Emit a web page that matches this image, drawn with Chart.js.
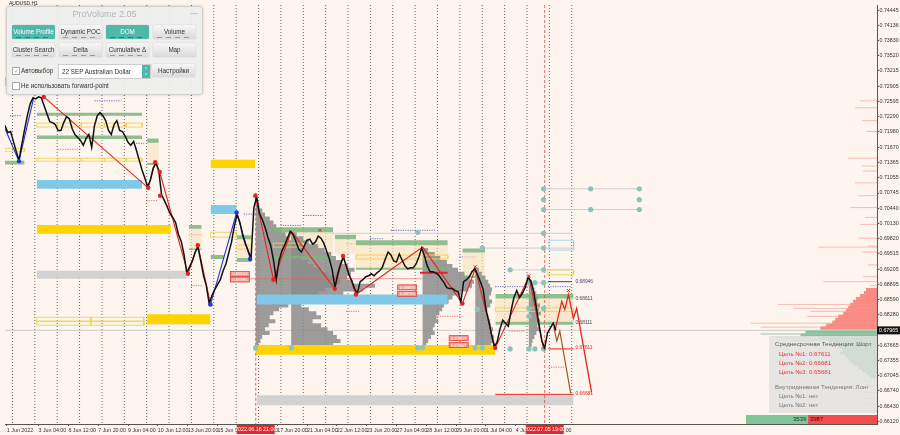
<!DOCTYPE html>
<html>
<head>
<meta charset="utf-8">
<title>AUDUSD,H1 ProVolume</title>
<script src="https://cdn.jsdelivr.net/npm/chart.js@4.4.1/dist/chart.umd.min.js"></script>
<style>
  html, body { margin: 0; padding: 0; background: #fdf5ee; }
  #wrap { position: relative; width: 900px; height: 435px; overflow: hidden; font-family: "Liberation Sans", Arial, sans-serif; }
  #graphCanvas { position: absolute; left: 0; top: 0; }
  #sym { position: absolute; left: 9px; top: 0; font-size: 5px; color: #222; }
  #pv { position: absolute; left: 6px; top: 6px; width: 195px; height: 87px; background: rgba(238,238,238,0.94);
        border: 1px solid #cfcfcf; border-radius: 3px; box-shadow: 0 0 3px rgba(0,0,0,0.18); }
  #pv .ttl { position: absolute; left: 0; right: 0; top: 2px; text-align: center; font-size: 9px; color: #b4b4b4; }
  #pv .min { position: absolute; right: 4px; top: 1px; font-size: 8px; color: #aaa; }
  .btn { position: absolute; width: 43px; height: 14px; border-radius: 2px; background: linear-gradient(#f7f7f7, #dadada);
         color: #333; font-size: 6.3px; text-align: center; line-height: 14px; box-shadow: 0 0 1px rgba(0,0,0,0.4); }
  .btn.on { background: #4fb8aa; color: #fff; }
  .btn i { position: absolute; left: 4px; right: 4px; bottom: 1.5px; height: 1px;
           background: repeating-linear-gradient(90deg, #999 0 5px, transparent 5px 9px); }
  .btn.on i { background: repeating-linear-gradient(90deg, #2f7f75 0 5px, transparent 5px 9px); }
  .cb { position: absolute; width: 6px; height: 6px; border: 1px solid #aaa; background: #fff; font-size: 6px; line-height: 6px; color: #4fb8aa; text-align: center; }
  .lbl { position: absolute; font-size: 6.3px; color: #333; white-space: nowrap; }
  .sel { position: absolute; left: 51px; top: 57px; width: 88px; height: 13px; background: #fff; border: 1px solid #ccc;
         font-size: 6.3px; line-height: 13px; padding-left: 3px; color: #333; }
  .sel .spin { position: absolute; right: 0; top: 0; width: 8px; height: 13px; background: #4fb8aa; color: #fff; font-size: 4px; line-height: 6px; text-align: center; }
  #info { position: absolute; left: 769px; top: 336px; width: 108px; height: 77px; background: rgba(226,226,226,0.82); }
  #info div { position: absolute; font-size: 6.2px; line-height: 7px; white-space: nowrap; color: #666; }
  #info .h { left: 6px; color: #555; }
  #info .r { left: 10px; color: #e53935; }
  #info .g { left: 10px; color: #777; }
  #vol { position: absolute; left: 746px; top: 415px; width: 131px; height: 9px; font-size: 6px; line-height: 9px; }
  #vol .b { position: absolute; left: 0; top: 0; width: 62px; height: 9px; background: #7fc597; text-align: right; color: #1d3a24; }
  #vol .s { position: absolute; left: 62px; top: 0; width: 69px; height: 9px; background: #f24e4e; color: #5a0000; }
</style>
</head>
<body>
<div id="wrap">
  <canvas id="graphCanvas" width="900" height="435"></canvas>
  <div id="sym">AUDUSD,H1</div>
  <div id="pv">
    <div class="ttl">ProVolume 2.05</div><div class="min">—</div>
    <div class="btn on" style="left:5px;top:18px">Volume Profile<i></i></div>
    <div class="btn" style="left:52px;top:18px">Dynamic POC<i></i></div>
    <div class="btn on" style="left:99px;top:18px">DOM<i></i></div>
    <div class="btn" style="left:146px;top:18px">Volume<i></i></div>
    <div class="btn" style="left:5px;top:36px">Cluster Search<i></i></div>
    <div class="btn" style="left:52px;top:36px">Delta<i></i></div>
    <div class="btn" style="left:99px;top:36px">Cumulative Δ<i></i></div>
    <div class="btn" style="left:146px;top:36px">Map</div>
    <div class="cb" style="left:5px;top:60px">✓</div>
    <div class="lbl" style="left:14px;top:60px">Автовыбор</div>
    <div class="sel">22 SEP Australian Dollar<div class="spin">˄<br>˅</div></div>
    <div class="btn" style="left:145px;top:57px;height:13px;line-height:13px">Настройки</div>
    <div class="cb" style="left:5px;top:75px"></div>
    <div class="lbl" style="left:14px;top:75px">Не использовать forward-point</div>
  </div>
  <div id="info">
    <div class="h" style="top:4px">Среднесрочная Тенденция: Шорт</div>
    <div class="r" style="top:14px">Цель №1: 0.67611</div>
    <div class="r" style="top:23px">Цель №2: 0.66681</div>
    <div class="r" style="top:32px">Цель №3: 0.65681</div>
    <div class="h" style="top:47px;color:#777">Внутридневная Тенденция: Лонг</div>
    <div class="g" style="top:56px">Цель №1: нет</div>
    <div class="g" style="top:65px">Цель №2: нет</div>
  </div>
  <div id="vol"><div class="b">3539&nbsp;</div><div class="s">&nbsp;3987</div></div>
</div>
<script>
const ctx = document.getElementById('graphCanvas').getContext('2d');

// axis bounds (bar index of H1 bars, price)
const xMin = 16, xMax = 951.5;
const yMin = 0.6607, yMax = 0.7455;

// time axis
const xTickBars = [18, 52, 84, 116, 148, 180, 212, 244, 276, 308, 340, 372, 404, 436, 468, 500, 532, 564, 596];
const xTickLabels = ['1 Jun 2022', '3 Jun 04:00', '6 Jun 12:00', '7 Jun 20:00', '9 Jun 04:00', '10 Jun 12:00',
  '13 Jun 20:00', '15 Jun 04:00', '16 Jun 12:00', '17 Jun 20:00', '21 Jun 04:00', '22 Jun 12:00', '23 Jun 20:00',
  '27 Jun 04:00', '28 Jun 12:00', '29 Jun 20:00', '1 Jul 04:00', '4 Jul 12:00', '5 Jul 20:00'];
const daySeparatorBars = [24, 48, 72, 96, 120, 144, 168, 192, 216, 240, 264, 288, 312, 336, 360, 384, 408, 432,
  456, 480, 504, 528, 552, 576, 600, 624];
const timeMarkerBars = [285, 595];
const timeMarkerLabels = ['2022.06.16 21:00', '2022.07.05 19:00'];
const timeMarkerTops = [0.7075, 0.7455];

// price axis
const yTicks = [0.74445, 0.74136, 0.73830, 0.73520, 0.73215, 0.72905, 0.72595, 0.72290, 0.71980, 0.71670,
  0.71365, 0.71055, 0.70745, 0.70440, 0.70130, 0.69820, 0.69515, 0.69205, 0.68895, 0.68590, 0.68280,
  0.67665, 0.67355, 0.67045, 0.66740, 0.66430, 0.66120];
const currentPrice = 0.67965;

// close price, every 3rd H1 bar from bar 16
const priceStartBar = 16;
const priceStep = 3;
const closePrices = [
  0.7211, 0.7197, 0.7199, 0.7179, 0.7159, 0.7141, 0.7173, 0.7203, 0.7231, 0.7255,
  0.7267, 0.7265, 0.7269, 0.7267, 0.7251, 0.7235, 0.7219, 0.7217, 0.7213, 0.7201,
  0.7201, 0.7217, 0.7229, 0.7225, 0.7205, 0.7193, 0.7187, 0.7181, 0.7171, 0.7185,
  0.7193, 0.7167, 0.7211, 0.7231, 0.7237, 0.7231, 0.7221, 0.7201, 0.7193, 0.7213,
  0.7221, 0.7201, 0.7199, 0.7189, 0.7177, 0.7171, 0.7179, 0.7161, 0.7141, 0.7121,
  0.7105, 0.7087, 0.7101, 0.7125, 0.7135, 0.7119, 0.7071, 0.7059, 0.7047, 0.7033,
  0.7025, 0.7015, 0.6991, 0.6977, 0.6951, 0.6913, 0.6925, 0.6937, 0.6955, 0.6965,
  0.6937, 0.6907, 0.6887, 0.6851, 0.6867, 0.6879, 0.6889, 0.6899, 0.6917, 0.6931,
  0.6953, 0.6975, 0.7007, 0.7031, 0.7015, 0.6989, 0.6971, 0.6957, 0.6943, 0.7045,
  0.7067, 0.7033, 0.7021, 0.7005, 0.6985, 0.6969, 0.6939, 0.6899, 0.6937, 0.6957,
  0.6969, 0.6983, 0.6997, 0.6991, 0.6977, 0.6961, 0.6955, 0.6967, 0.6979, 0.6981,
  0.6971, 0.6975, 0.6987, 0.6983, 0.6973, 0.6957, 0.6941, 0.6919, 0.6883, 0.6911,
  0.6931, 0.6945, 0.6927, 0.6909, 0.6897, 0.6881, 0.6871, 0.6895, 0.6899, 0.6905,
  0.6907, 0.6911, 0.6907, 0.6913, 0.6917, 0.6925, 0.6941, 0.6955, 0.6949, 0.6937,
  0.6935, 0.6951, 0.6939, 0.6927, 0.6921, 0.6923, 0.6923, 0.6931, 0.6945, 0.6963,
  0.6947, 0.6927, 0.6915, 0.6915, 0.6913, 0.6909, 0.6901, 0.6893, 0.6883, 0.6881,
  0.6881, 0.6877, 0.6875, 0.6853, 0.6895, 0.6899, 0.6905, 0.6915, 0.6921, 0.6909,
  0.6895, 0.6879, 0.6839, 0.6815, 0.6787, 0.6763, 0.6773, 0.6799, 0.6817, 0.6811,
  0.6805, 0.6837, 0.6863, 0.6877, 0.6863, 0.6871, 0.6883, 0.6903, 0.6897, 0.6877,
  0.6843, 0.6807, 0.6775, 0.6761, 0.6791, 0.6801, 0.6811, 0.6797
];

// zigzag [bar, price]
const blueZigA = [[16, 0.7205], [31, 0.7139], [47, 0.7269]];
const blueZigB = [[236.5, 0.6849], [264.5, 0.7035], [279, 0.6941]];
const redZigA = [[57.6, 0.7269], [169.6, 0.7085], [177.1, 0.7137], [182, 0.7117], [212.3, 0.6911], [222.9, 0.6969], [236.5, 0.6849]];
const redZigB = [[284.5, 0.7069], [304, 0.6899], [323.2, 0.6997], [369.8, 0.6881], [378.7, 0.6947], [392.5, 0.6869],
  [464, 0.6965], [506.7, 0.6851], [520.5, 0.6921], [541.9, 0.6761], [578.1, 0.6905], [593.8, 0.6759]];
const forecastRed = [[605.9, 0.6795], [613.3, 0.6855], [616.5, 0.6839], [620.5, 0.6869], [625.8, 0.6821], [629.3, 0.6841], [645.3, 0.6671]];
const forecastBrown = [[604.8, 0.6803], [608, 0.6775], [611.2, 0.6795], [622.9, 0.6669]];
const redPivots = [[57.6, 0.7269], [169.6, 0.7085], [177.1, 0.7137], [182, 0.7117], [182.4, 0.7069], [212.3, 0.6911],
  [222.9, 0.6969], [284.5, 0.7069], [304, 0.6899], [369.8, 0.6881], [378.7, 0.6947], [392.5, 0.6869], [506.7, 0.6851], [541.9, 0.6761]];
const bluePivots = [[31, 0.7139], [236.5, 0.6849], [264.5, 0.7035], [279, 0.6941]];
const crossMarks = [[353.8, 0.6999], [520.5, 0.6925], [578.1, 0.6907], [620.5, 0.6877]];

// zones [bar from, bar to, price top, price bottom]
const greenBands = [
  [50, 163, 0.7237, 0.7231], [50, 163, 0.7191, 0.7184], [16, 37, 0.7140, 0.7132], [168.5, 181, 0.7185, 0.7176],
  [168.5, 181, 0.7135, 0.7131], [213, 227, 0.7010, 0.7002], [213, 227, 0.6962, 0.6959], [236.5, 251, 0.6949, 0.6941],
  [264.5, 280.5, 0.6989, 0.6981], [264.5, 280.5, 0.6943, 0.6935], [304, 368, 0.7005, 0.6995], [304, 368, 0.6947, 0.6942],
  [370, 392.5, 0.6990, 0.6981], [392.5, 491, 0.6979, 0.6969], [392.5, 491, 0.6923, 0.6919], [506.7, 531, 0.6962, 0.6954],
  [506.7, 531, 0.6907, 0.6903], [542, 626, 0.6870, 0.6861], [542, 626, 0.6814, 0.6808]
];
const beigeBands = [
  [168.5, 181, 0.7176, 0.7135], [213, 227, 0.7002, 0.6962], [264.5, 280.5, 0.6981, 0.6943], [304, 368, 0.6995, 0.6947],
  [370, 392.5, 0.6981, 0.6951], [392.5, 491, 0.6969, 0.6923], [506.7, 531, 0.6954, 0.6907], [542, 626, 0.6861, 0.6814]
];
const blueBands = [[50, 163, 0.7101, 0.7083], [236.5, 264.5, 0.7050, 0.7032], [286, 491, 0.6869, 0.6849]];
const goldBands = [[50, 194, 0.7010, 0.6992], [236.5, 284.5, 0.7142, 0.7125], [168.5, 236.5, 0.6829, 0.6809],
  [285, 542, 0.6767, 0.6747], [16, 19, 0.7309, 0.7291]];
const grayBands = [[50, 211, 0.6917, 0.6901], [286, 626, 0.6665, 0.6645]];
const redBands = [[461, 491, 0.6915, 0.6911]];
const yellowBoxes = [
  [50, 72.5, 0.7216, 0.7208], [72.5, 98, 0.7216, 0.7208], [98, 122.7, 0.7216, 0.7208], [122.7, 146, 0.7216, 0.7208], [146, 163, 0.7216, 0.7208],
  [50, 72.5, 0.7145, 0.7139], [72.5, 98, 0.7145, 0.7139], [98, 122.7, 0.7145, 0.7139], [122.7, 146, 0.7145, 0.7139], [146, 163, 0.7145, 0.7139],
  [16, 37, 0.7165, 0.7159], [236.5, 264.5, 0.6995, 0.6985], [264.5, 280.5, 0.6969, 0.6961],
  [50, 108, 0.6823, 0.6815], [108, 165, 0.6823, 0.6815], [50, 108, 0.6815, 0.6807], [108, 165, 0.6815, 0.6807],
  [304, 336, 0.6973, 0.6965], [392.5, 491, 0.6949, 0.6941], [598.4, 626, 0.6919, 0.6909], [542, 626, 0.6842, 0.6835]
];
const lightBlueBoxes = [[599.5, 626, 0.6979, 0.6959]];

// horizontal levels [bar from, bar to, price]
const redLevels = [[599, 626, 0.6759], [542, 626, 0.6667]];
const redThinLevels = [[277, 464, 0.6901]];
const navyLevels = [[598.4, 624, 0.6895]];
const dottedNavy = [[21.3, 34.1, 0.7231], [112, 140.8, 0.7261], [151.5, 165.3, 0.7175], [213.3, 227.2, 0.6990],
  [272, 290, 0.7032], [311.5, 333.9, 0.7009], [336, 357.3, 0.7029], [381.9, 392.5, 0.6972], [407.5, 421.3, 0.6982],
  [429.9, 477.9, 0.6999], [503.5, 520.5, 0.6945], [541.9, 578.1, 0.6885], [598.4, 624, 0.6885]];
const dottedRed = [[72.5, 98.1, 0.7163], [167.5, 179.2, 0.7059], [215.5, 227.2, 0.6887], [381.9, 396.8, 0.6835],
  [480, 506.7, 0.6825], [556.8, 573.9, 0.6795], [599.1, 616.5, 0.6722]];
const grayLevels = [[593.8, 696.5, 0.7083], [593.8, 696.5, 0.7041], [288, 626, 0.6993], [528, 626, 0.6963],
  [557.9, 626, 0.6919], [578.1, 598.4, 0.6893]];
const tealDots = [[593.8, 0.7083], [644.3, 0.7083], [696.5, 0.7083], [593.8, 0.7061], [696.5, 0.7061], [593.8, 0.7041],
  [644.3, 0.7041], [696.5, 0.7041], [593.8, 0.6993], [593.8, 0.6963], [528, 0.6963], [458.7, 0.6995], [557.9, 0.6919],
  [593.8, 0.6919], [578.1, 0.6893], [584.5, 0.6893], [593.8, 0.6893], [578.1, 0.6841], [593.8, 0.6841], [578.1, 0.6825],
  [522.7, 0.6839], [520.5, 0.6761], [528, 0.6761], [557.9, 0.6759], [578.1, 0.6759], [584.5, 0.6759], [593.8, 0.6759],
  [458.7, 0.6761], [464, 0.6761], [323.2, 0.6761], [284.8, 0.6761]];

// level labels
const levelLabelBar = 626.5;
const levelLabelPrices = [0.68946, 0.68611, 0.68111, 0.67611, 0.66681];
const tagBars = [257.8, 257.8, 437.3, 437.3, 492.5, 492.5];
const tagPrices = [0.69109, 0.68995, 0.68835, 0.68705, 0.67807, 0.67667];

// session volume profiles: shared levels, volume in bars
const profileLevels = [0.7047, 0.7039, 0.7031, 0.7023, 0.7015, 0.7007, 0.6999, 0.6991, 0.6983, 0.6975, 0.6967, 0.6959,
  0.6951, 0.6943, 0.6935, 0.6927, 0.6919, 0.6911, 0.6903, 0.6895, 0.6887, 0.6879, 0.6871, 0.6863, 0.6855, 0.6847,
  0.6839, 0.6831, 0.6823, 0.6815, 0.6807, 0.6799, 0.6791, 0.6783, 0.6775, 0.6767];
const profileStartBars = [285, 323, 464, 520.5, 578];
const profile1Vol = [4, 7, 10, 15, 19, 22, 28, 32, 36, 38, 42, 47, 51, 49, 56, 62, 70, 78, 88, 104, 128, 115, 94, 74, 51, 35, 25, 19, 15, 21, 14, 10, 15, 7, 5, 3];
const profile2Vol = [0, 0, 0, 0, 0, 0, 0, 6, 13, 19, 29, 36, 43, 48, 55, 61, 68, 64, 60, 53, 45, 36, 29, 21, 15, 11, 19, 27, 32, 23, 32, 39, 45, 49, 53, 45];
const profile3Vol = [0, 0, 0, 0, 0, 0, 0, 0, 0, 0, 0, 6, 13, 19, 26, 32, 38, 45, 51, 55, 53, 49, 41, 32, 28, 23, 21, 18, 15, 17, 13, 11, 13, 9, 6, 4];
const profile4Vol = [0, 0, 0, 0, 0, 0, 0, 0, 0, 0, 0, 0, 0, 0, 0, 0, 4, 7, 11, 14, 16, 18, 17, 15, 18, 16, 13, 12, 14, 16, 17, 19, 18, 20, 19, 17];
const profile5Vol = [0, 0, 0, 0, 0, 0, 0, 0, 0, 0, 0, 0, 0, 0, 0, 0, 0, 0, 0, 3, 5, 6, 8, 10, 9, 12, 11, 13, 10, 12, 9, 11, 8, 6, 4, 3];

// market depth on the right edge (volume in bars from the right)
const sellLevels = [0.6879, 0.6873, 0.6867, 0.6861, 0.6855, 0.6849, 0.6843, 0.6837, 0.6831, 0.6825, 0.6819, 0.6813, 0.6807, 0.6801];
const sellVolumes = [11.7, 13.9, 18.1, 22.4, 25.6, 28.8, 30.9, 33.1, 36.3, 41.6, 44.8, 48, 54.4, 60.8];
const sellThinLevels = [0.7261, 0.7247, 0.7221, 0.7199, 0.7145, 0.7129, 0.7119, 0.7095, 0.7069, 0.7045, 0.7025, 0.7011,
  0.6983, 0.6967, 0.6965, 0.6955, 0.6929, 0.6905, 0.6895, 0.6887, 0.6849, 0.6841, 0.6835, 0.6825, 0.6811, 0.6803];
const sellThinVolumes = [18, 23.5, 16, 11.7, 30.9, 16, 14.9, 23.5, 20.3, 28.8, 12.8, 18.1, 20.3, 9.6, 62.9, 16, 9.6,
  14.9, 57.6, 7.5, 106.7, 89.6, 71.5, 74.7, 135.5, 124.8];
const buyLevels = [0.6793, 0.6787, 0.6781, 0.6775, 0.6769, 0.6763, 0.6757, 0.6751, 0.6745, 0.6739, 0.6733, 0.6727, 0.6721, 0.6715, 0.6709, 0.6703];
const buyVolumes = [76.8, 82.1, 62.9, 52.3, 46.9, 41.6, 37.3, 39.5, 34.1, 30.9, 28.8, 25.6, 20.3, 16, 11.7, 7.5];
const buyThinLevels = [0.6789, 0.6783, 0.6777];
const buyThinVolumes = [124.8, 108.8, 92.8];
const neutralLevels = [0.6695, 0.6685, 0.6671, 0.6659, 0.6647, 0.6635];
const neutralVolumes = [16, 9.6, 18.1, 12.8, 20.3, 11.7];

// ---------- helpers ----------
function pts(pairs) {
    return pairs.map(p => ({ x: p[0], y: p[1] }));
}

function hSegments(list) {
    const out = [];
    list.forEach(s => out.push({ x: s[0], y: s[2] }, { x: s[1], y: s[2] }, { x: s[1], y: null }));
    return out;
}

function lineDs(data, color, width, order, dash) {
    return { type: 'line', data: data, borderColor: color, borderWidth: width, pointRadius: 0,
             fill: false, order: order, borderDash: dash || [], spanGaps: false };
}

function bandDs(list, color, order) {
    return list.map(b => ({
        type: 'line',
        data: [{ x: b[0], y: b[2] }, { x: b[1], y: b[2] }],
        borderWidth: 0, borderColor: 'transparent', pointRadius: 0,
        backgroundColor: color, fill: { value: b[3] }, order: order
    }));
}

function boxDs(list, color, order) {
    return list.map(b => lineDs([{ x: b[0], y: b[2] }, { x: b[1], y: b[2] }, { x: b[1], y: b[3] },
        { x: b[0], y: b[3] }, { x: b[0], y: b[2] }], color, 0.9, order));
}

function profileData(start, vols) {
    const out = [];
    vols.forEach((v, i) => {
        if (v > 0) out.push({ x: start, y: profileLevels[i] }, { x: start + v, y: profileLevels[i] }, { x: start + v, y: null });
    });
    return out;
}

function depthData(levels, vols) {
    const out = [];
    levels.forEach((p, i) => out.push({ x: xMax - vols[i], y: p }, { x: xMax, y: p }, { x: xMax, y: null }));
    return out;
}

function dotsDs(pairs, color, radius, order, style) {
    return { type: 'line', data: pts(pairs), showLine: false, pointRadius: radius, pointStyle: style || 'circle',
             pointBackgroundColor: color, pointBorderColor: color, pointBorderWidth: style ? 1 : 0, order: order };
}

// ---------- datasets ----------
const datasets = [];
const priceData = closePrices.map((p, i) => ({ x: priceStartBar + i * priceStep, y: p }));
datasets.push(lineDs(priceData, '#111', 1.5, 1));

datasets.push(lineDs(pts(blueZigA), '#2336d8', 1.1, 2));
datasets.push(lineDs(pts(blueZigB), '#2336d8', 1.1, 2));
datasets.push(lineDs(pts(redZigA), '#e8231f', 1.1, 2));
datasets.push(lineDs(pts(redZigB), '#e8231f', 1.1, 2));
datasets.push(lineDs(pts(forecastRed), '#e8231f', 1.3, 2));
datasets.push(lineDs(pts(forecastBrown), '#a0582a', 1.2, 2));
datasets.push(dotsDs(redPivots, '#e8231f', 2.2, 0));
datasets.push(dotsDs(bluePivots, '#2336d8', 2.2, 0));
datasets.push(dotsDs(crossMarks, '#e8231f', 2.2, 0, 'crossRot'));
datasets.push(dotsDs(tealDots, '#8cc3bd', 2.6, 3));

// levels
const vLines = [];
timeMarkerBars.forEach((b, i) => vLines.push({ x: b, y: timeMarkerTops[i] }, { x: b, y: yMin }, { x: b, y: null }));
datasets.push(lineDs(vLines, '#e04545', 0.8, 4, [3, 2]));
datasets.push(lineDs(hSegments(redLevels), '#e8231f', 1, 4));
datasets.push(lineDs(hSegments(redThinLevels), 'rgba(230,90,90,0.7)', 0.8, 4));
datasets.push(lineDs(hSegments(navyLevels), '#3b3b9a', 1, 4));
datasets.push(lineDs(hSegments(dottedNavy), '#4646b0', 0.8, 9, [1.2, 1.2]));
datasets.push(lineDs(hSegments(dottedRed), '#e05050', 0.8, 9, [1.2, 1.2]));
datasets.push(lineDs(hSegments(grayLevels), '#cbcbcb', 0.9, 9));
datasets.push(...boxDs(yellowBoxes, '#f1d24a', 5));
datasets.push(...boxDs(lightBlueBoxes, '#9fd3e6', 5));

// zones
datasets.push(...bandDs(blueBands, '#80c8e8', 6));
datasets.push(...bandDs(goldBands, '#ffd400', 6));
datasets.push(...bandDs(greenBands, 'rgba(125,180,125,0.85)', 6));
datasets.push(...bandDs(grayBands, '#d2d2d2', 6));
datasets.push(...bandDs(redBands, '#e8231f', 6));

// profiles
const profileVols = [profile1Vol, profile2Vol, profile3Vol, profile4Vol, profile5Vol];
profileVols.forEach((v, i) => datasets.push(lineDs(profileData(profileStartBars[i], v), 'rgba(140,140,140,0.85)', 4, 7)));
datasets.push(lineDs(depthData(sellThinLevels, sellThinVolumes), 'rgba(244,150,140,0.6)', 1, 7));
datasets.push(lineDs(depthData(sellLevels, sellVolumes), '#f98b83', 3.2, 7));
datasets.push(lineDs(depthData(buyThinLevels, buyThinVolumes), 'rgba(150,200,165,0.6)', 1.5, 7));
datasets.push(lineDs(depthData(buyLevels, buyVolumes), 'rgba(125,190,145,0.9)', 3.2, 7));
datasets.push(lineDs(depthData(neutralLevels, neutralVolumes), 'rgba(200,200,200,0.7)', 1.2, 7));
datasets.push(...bandDs(beigeBands, 'rgba(250,226,192,0.65)', 8));

// background rulers
datasets.push(lineDs([{ x: xMin, y: currentPrice }, { x: xMax, y: currentPrice }], '#c9c9c9', 0.9, 10));
const dayLines = [];
daySeparatorBars.forEach(b => dayLines.push({ x: b, y: yMax }, { x: b, y: yMin }, { x: b, y: null }));
datasets.push(lineDs(dayLines, '#666', 1, 11, [1, 2]));

const levelLabelColors = ['#3b3b9a', '#444', '#444', '#e8231f', '#e8231f'];
const FONT = '"Liberation Sans", Arial, sans-serif';

const overlayPlugin = {
    id: 'overlay',
    beforeDraw(chart) {
        const c = chart.ctx;
        c.save();
        c.fillStyle = '#fdf5ee';
        c.fillRect(0, 0, chart.width, chart.height);
        c.restore();
    },
    afterDatasetsDraw(chart) {
        const c = chart.ctx, xs = chart.scales.x, ys = chart.scales.y;
        c.save();
        c.textBaseline = 'middle';
        c.font = '4.8px ' + FONT;
        levelLabelPrices.forEach((p, i) => {
            c.fillStyle = levelLabelColors[i];
            c.fillText(p.toFixed(5), xs.getPixelForValue(levelLabelBar) + 1.5, ys.getPixelForValue(p));
        });
        c.font = '4.2px ' + FONT;
        c.textAlign = 'center';
        tagPrices.forEach((p, i) => {
            const px = xs.getPixelForValue(tagBars[i]), py = ys.getPixelForValue(p);
            c.fillStyle = '#f29a93';
            c.fillRect(px, py - 2.5, 19, 5);
            c.strokeStyle = '#e2302a';
            c.lineWidth = 0.7;
            c.strokeRect(px, py - 2.5, 19, 5);
            c.fillStyle = '#fff';
            c.fillText(p.toFixed(5), px + 9.5, py + 0.3);
        });
        c.restore();
    },
    afterDraw(chart) {
        const c = chart.ctx, xs = chart.scales.x, ys = chart.scales.y;
        c.save();
        c.textBaseline = 'middle';
        c.textAlign = 'center';
        c.font = '5.3px ' + FONT;
        timeMarkerBars.forEach((b, i) => {
            const px = xs.getPixelForValue(b);
            c.fillStyle = '#e8262a';
            c.fillRect(px - 19, 425, 38, 9);
            c.fillStyle = '#fff';
            c.fillText(timeMarkerLabels[i], px, 429.8);
        });
        const py = ys.getPixelForValue(currentPrice);
        c.fillStyle = '#111';
        c.fillRect(chart.chartArea.right, py - 4, 23, 8);
        c.fillStyle = '#fff';
        c.textAlign = 'left';
        c.fillText(currentPrice.toFixed(5), chart.chartArea.right + 2, py + 0.3);
        c.restore();
    }
};

const chart = new Chart(ctx, {
    type: 'line',
    data: { datasets: datasets },
    options: {
        responsive: false,
        animation: false,
        events: [],
        layout: { padding: 0 },
        elements: { line: { tension: 0 } },
        plugins: { legend: { display: false }, tooltip: { enabled: false } },
        scales: {
            x: {
                type: 'linear', min: xMin, max: xMax,
                afterBuildTicks: s => { s.ticks = xTickBars.map(v => ({ value: v })); },
                afterFit: s => { s.height = 11; s.paddingLeft = 0; s.paddingRight = 0; },
                ticks: { callback: (v, i) => xTickLabels[i], align: 'start', maxRotation: 0, autoSkip: false,
                         padding: 1, color: '#333', font: { size: 5.3, family: FONT } },
                grid: { drawOnChartArea: false, tickLength: 2, color: '#555' },
                border: { color: '#555' }
            },
            y: {
                type: 'linear', position: 'right', min: yMin, max: yMax,
                afterBuildTicks: s => { s.ticks = yTicks.map(v => ({ value: v })); },
                afterFit: s => { s.width = 23; s.paddingTop = 0; s.paddingBottom = 0; },
                ticks: { callback: v => v.toFixed(5), autoSkip: false, padding: 0.5, color: '#333',
                         font: { size: 5.3, family: FONT } },
                grid: { drawOnChartArea: false, tickLength: 2, color: '#555' },
                border: { color: '#555' }
            }
        }
    },
    plugins: [overlayPlugin]
});
</script>
</body>
</html>
